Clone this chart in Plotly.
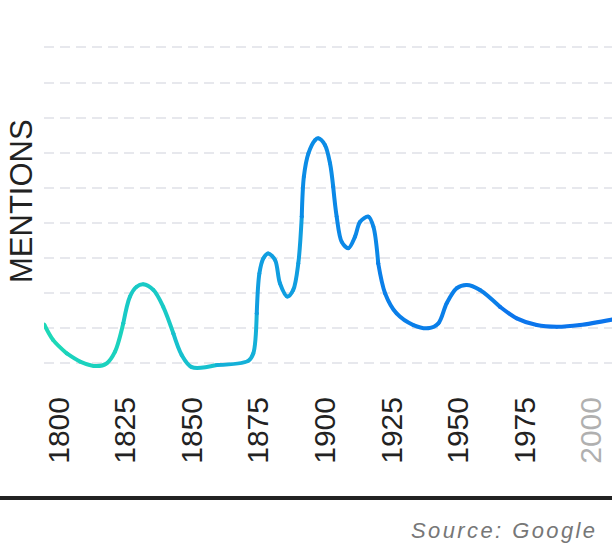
import plotly.graph_objects as go

# values (gridlines sit at 0, 1, 2, ... on the hidden y axis)
years = [1794.5, 1797.9, 1803.0, 1808.0, 1814.2, 1818.0, 1821.1, 1824.2, 1826.7, 1829.2,
         1831.7, 1835.5, 1839.2, 1843.0, 1846.1, 1849.9, 1859.3, 1871.1, 1873.0, 1874.3,
         1875.3, 1876.8, 1878.6, 1881.2, 1883.0, 1885.8, 1888.0, 1889.9, 1891.2, 1892.0,
         1893.7, 1896.2, 1897.4, 1899.9, 1901.8, 1903.0, 1904.3, 1906.2, 1908.7, 1911.2,
         1913.1, 1916.2, 1918.1, 1919.9, 1922.5, 1926.8, 1933.1, 1938.7, 1942.5, 1945.6,
         1949.4, 1953.1, 1958.1, 1965.6, 1971.9, 1979.4, 1986.9, 1995.6, 2008.0]
mentions = [1.11, 0.66, 0.28, 0.05, -0.08, 0.00, 0.33, 1.14, 1.90, 2.18,
            2.25, 2.09, 1.61, 0.85, 0.24, -0.11, -0.05, 0.07, 0.28, 1.42,
            2.56, 2.99, 3.13, 2.94, 2.28, 1.90, 2.09, 2.85, 4.18, 5.32,
            5.98, 6.36, 6.41, 6.22, 5.70, 5.03, 4.18, 3.46, 3.28, 3.61,
            4.03, 4.18, 3.89, 2.85, 1.99, 1.42, 1.09, 1.00, 1.14, 1.71,
            2.14, 2.23, 2.09, 1.61, 1.28, 1.09, 1.04, 1.09, 1.25]

tick_years = [1800, 1825, 1850, 1875, 1900, 1925, 1950, 1975, 2000]
tick_labels = ["1800", "1825", "1850", "1875", "1900", "1925", "1950", "1975",
               "<span style='color:#b0b0b0'>2000</span>"]

# the line is split into pieces so it can fade from teal to blue
band_breaks = [0, 2, 7, 13, 16, 19, 28, 35, 43, 53, 58]
grad_stops = [(1794, (29, 218, 182)), (1848, (24, 196, 204)), (1877, (18, 165, 222)),
              (1898, (11, 139, 230)), (1948, (10, 126, 233)), (2008, (12, 112, 238))]


def grad_color(yr):
    for (y0, c0), (y1, c1) in zip(grad_stops[:-1], grad_stops[1:]):
        if y0 <= yr <= y1:
            t = (yr - y0) / (y1 - y0)
            return "rgb(%d,%d,%d)" % tuple(round(a + (b - a) * t) for a, b in zip(c0, c1))
    return "rgb(%d,%d,%d)" % grad_stops[-1][1]


fig = go.Figure()
for i0, i1 in zip(band_breaks[:-1], band_breaks[1:]):
    xs = years[i0:i1 + 1]
    ys = mentions[i0:i1 + 1]
    col = grad_color((xs[0] + xs[-1]) / 2)
    fig.add_trace(go.Scatter(x=xs, y=ys, mode="lines+markers",
                             line=dict(color=col, width=4, shape="spline", smoothing=0.9),
                             marker=dict(color=col, size=3.8), hoverinfo="skip", showlegend=False))

fig.update_xaxes(range=[1794.44, 2007.66], tickvals=tick_years, ticktext=tick_labels,
                 tickangle=-90, tickfont=dict(size=30, color="#222222", family="Liberation Sans"),
                 showgrid=False, zeroline=False, showline=False, ticks="")
fig.update_yaxes(range=[-0.7607, 9.2108], tick0=0, dtick=1, showticklabels=False,
                 showgrid=True, gridcolor="#e7e8ed", gridwidth=2, griddash="10px,6px",
                 zeroline=False, showline=False, ticks="")

fig.add_shape(type="line", xref="paper", yref="paper", x0=-0.0775, x1=1.0, y0=-0.3086, y1=-0.3086,
              line=dict(color="#222222", width=4))
fig.add_annotation(text="MENTIONS", textangle=-90, xref="paper", yref="paper", x=-0.0405, y=0.54,
                   xanchor="center", yanchor="middle", showarrow=False, borderpad=0,
                   font=dict(size=31, color="#222222", family="Liberation Sans"))
fig.add_annotation(text="<i><span style='letter-spacing:2.4px'>Source: Google</span></i>",
                   xref="paper", yref="paper", x=0.977, y=-0.4,
                   xanchor="right", yanchor="middle", showarrow=False,
                   font=dict(size=22, color="#777777", family="Liberation Sans"))

fig.update_layout(width=612, height=544, margin=dict(l=44, r=0, t=40, b=154),
                  paper_bgcolor="white", plot_bgcolor="white")
# drop the browser's default 8px body margin so the figure fills the window
fig.write_html("out.html", config={"displayModeBar": False},
               post_script="document.body.style.margin='0';")
